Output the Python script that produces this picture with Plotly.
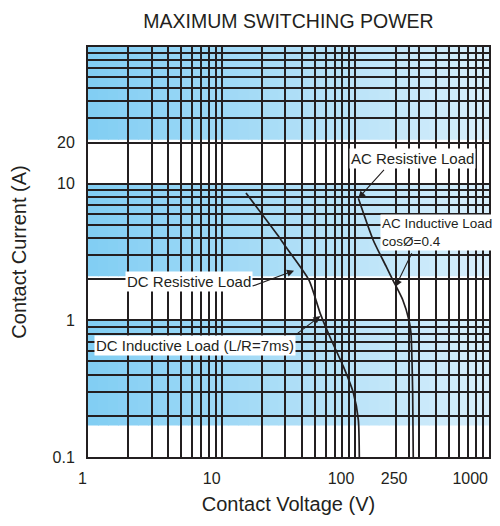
import numpy as np
import plotly.graph_objects as go

# ---- data ----
dc_voltage = [15.2, 26.2, 29.5, 45.0, 54.5, 64.6, 81.6, 96.7, 105.3, 107.1]
dc_current = [8.55, 4.21, 3.56, 1.97, 1.13, 0.755, 0.456, 0.294, 0.187, 0.1]

ac_voltage = [105.3, 135.9, 170.4, 191.0, 226.5, 252.0, 260.8, 265.3, 268.5, 271.2]
ac_current = [7.81, 3.87, 2.47, 1.97, 1.41, 1.0, 0.808, 0.513, 0.294, 0.1]

x_grid = [1, 2, 3, 4, 5, 6, 7, 8, 9, 10, 20, 30, 40, 50, 60, 70, 80, 90,
          100, 200, 250, 300, 400, 500, 600, 700, 800, 900, 1000]
x_labeled = {1: "1", 10: "10", 100: "100", 250: "250", 1000: "1000"}
y_grid = [0.1, 0.2, 0.3, 0.4, 0.5, 0.6, 0.7, 0.8, 0.9, 1, 2, 3, 4, 5, 6, 7, 8, 9,
          10, 20, 30, 40, 50, 60, 70, 80, 90, 100]
y_labeled = {0.1: "0.1", 1: "1", 10: "10", 20: "20"}

band_low = [0.17, 2.1, 21]
band_high = [1, 10, 100]

# annotation texts with the point (voltage, current) they refer to
label_texts = ["AC Resistive Load", "AC Inductive Load<br>cosØ=0.4",
               "DC Resistive Load", "DC Inductive Load (L/R=7ms)"]
label_sizes = [15, 13.5, 15, 15]
label_pos_v = [267.5, 152.0, 5.67, 6.36]
label_pos_i = [15.28, 4.36, 1.92, 0.655]
arrow_tip_v = [105.3, 199.7, 34.8, 54.8]
arrow_tip_i = [7.81, 1.76, 2.31, 1.076]

INK = "#231f20"
FONT = "Liberation Sans, Arial, Helvetica, sans-serif"

fig = go.Figure()
fig.add_trace(go.Scatter(x=dc_voltage, y=dc_current, mode="lines",
                         line=dict(color=INK, width=1.7, shape="spline", smoothing=0.6),
                         hoverinfo="skip", showlegend=False))
fig.add_trace(go.Scatter(x=ac_voltage, y=ac_current, mode="lines",
                         line=dict(color=INK, width=1.7, shape="spline", smoothing=0.6),
                         hoverinfo="skip", showlegend=False))

# gradient bands (horizontal gradient approximated with strips)
c_left = np.array([130, 206, 243])
c_right = np.array([215, 238, 251])
n_strips = 40
shapes = []
for lo, hi in zip(band_low, band_high):
    for k in range(n_strips):
        t = k / (n_strips - 1)
        c = (c_left * (1 - t) + c_right * t).round().astype(int)
        shapes.append(dict(type="rect", xref="paper", yref="y",
                           x0=k / n_strips, x1=(k + 1) / n_strips + 0.002,
                           y0=lo, y1=hi, layer="below", line=dict(width=0),
                           fillcolor=f"rgb({c[0]},{c[1]},{c[2]})"))

annotations = []
for txt, size, v, i in zip(label_texts, label_sizes, label_pos_v, label_pos_i):
    multi = "<br>" in txt
    annotations.append(dict(
        x=np.log10(v), y=np.log10(i), xref="x", yref="y", text=txt,
        showarrow=False, bgcolor="white", borderpad=1,
        xanchor="left" if multi else "center", align="left",
        font=dict(family=FONT, size=size, color=INK)))

arrow_offsets = [(27, -30), (17, -35), (-43, 16), (-25, 19)]
for v, i, (ox, oy) in zip(arrow_tip_v, arrow_tip_i, arrow_offsets):
    annotations.append(dict(
        x=np.log10(v), y=np.log10(i), xref="x", yref="y", text="",
        showarrow=True, ax=ox, ay=oy, arrowhead=2, arrowsize=1.3,
        arrowwidth=1.1, arrowcolor=INK, standoff=0))

# the page body adds an 8px offset on every side; the figure is sized so the
# page does not overflow the 500x526 window
fig.update_layout(
    width=484, height=510,
    margin=dict(l=80, r=1, t=39, b=61),
    paper_bgcolor="white", plot_bgcolor="white",
    font=dict(family=FONT, color=INK),
    title=dict(text="MAXIMUM SWITCHING POWER", x=0.5, xref="paper",
               y=1 - 13 / 510, yref="container", yanchor="middle",
               font=dict(family=FONT, size=19.5, color=INK)),
    shapes=shapes, annotations=annotations,
)
fig.update_xaxes(
    type="log", range=[0, 3],
    tickmode="array", tickvals=x_grid,
    ticktext=[x_labeled.get(v, "") for v in x_grid],
    showgrid=True, gridcolor=INK, gridwidth=1.5,
    showline=True, mirror=True, linecolor=INK, linewidth=2,
    ticks="", ticklabelstandoff=6, ticklabelposition="outside left",
    tickfont=dict(family=FONT, size=16, color=INK),
    title=dict(text="Contact Voltage (V)", standoff=11,
               font=dict(family=FONT, size=20, color=INK)),
)
fig.update_yaxes(
    type="log", range=[-1, 2],
    tickmode="array", tickvals=y_grid,
    ticktext=[y_labeled.get(v, "") for v in y_grid],
    showgrid=True, gridcolor=INK, gridwidth=1.5,
    showline=True, mirror=True, linecolor=INK, linewidth=2,
    ticks="", ticklabelstandoff=8,
    tickfont=dict(family=FONT, size=16, color=INK),
    title=dict(text="Contact Current (A)", standoff=22,
               font=dict(family=FONT, size=20, color=INK)),
)

fig.write_html("out.html")
